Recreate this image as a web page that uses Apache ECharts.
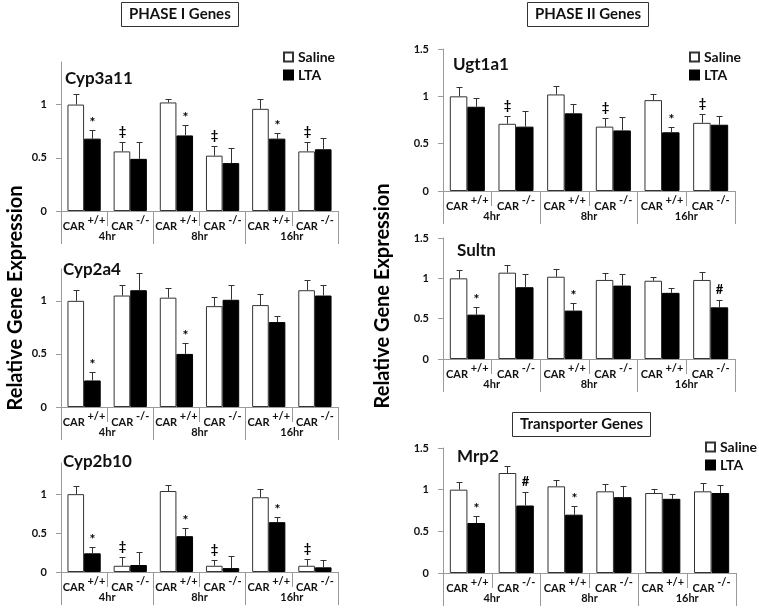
<!DOCTYPE html>
<html><head><meta charset="utf-8">
<script src="https://cdn.jsdelivr.net/npm/echarts@6/dist/echarts.min.js"></script>
<style>html,body{margin:0;padding:0;background:#fff}#c{width:759px;height:611px}</style>
</head><body><div id="c"></div>
<script>
// ---------- data ----------
const genotypes = ['+/+', '-/-', '+/+', '-/-', '+/+', '-/-'];
const timepoints = ['4hr', '8hr', '16hr'];
const categories = ['4hr CAR+/+', '4hr CAR-/-', '8hr CAR+/+', '8hr CAR-/-', '16hr CAR+/+', '16hr CAR-/-'];
const seriesNames = ['Saline', 'LTA'];

const cyp3a11Saline    = [1.00, 0.56, 1.02, 0.52, 0.96, 0.56];
const cyp3a11SalineErr = [0.10, 0.09, 0.03, 0.09, 0.09, 0.09];
const cyp3a11Lta       = [0.68, 0.49, 0.71, 0.45, 0.68, 0.58];
const cyp3a11LtaErr    = [0.08, 0.16, 0.10, 0.14, 0.05, 0.11];
const cyp3a11SalineMarks = ['', '‡', '', '‡', '', '‡'];
const cyp3a11LtaMarks    = ['*', '', '*', '', '*', ''];

const cyp2a4Saline    = [1.00, 1.05, 1.03, 0.95, 0.96, 1.10];
const cyp2a4SalineErr = [0.10, 0.10, 0.09, 0.09, 0.10, 0.10];
const cyp2a4Lta       = [0.25, 1.10, 0.50, 1.01, 0.80, 1.05];
const cyp2a4LtaErr    = [0.08, 0.16, 0.10, 0.14, 0.06, 0.10];
const cyp2a4SalineMarks = ['', '', '', '', '', ''];
const cyp2a4LtaMarks    = ['*', '', '*', '', '', ''];

const cyp2b10Saline    = [1.00, 0.08, 1.04, 0.08, 0.96, 0.08];
const cyp2b10SalineErr = [0.10, 0.11, 0.08, 0.08, 0.10, 0.09];
const cyp2b10Lta       = [0.24, 0.09, 0.46, 0.05, 0.64, 0.06];
const cyp2b10LtaErr    = [0.08, 0.17, 0.10, 0.15, 0.07, 0.10];
const cyp2b10SalineMarks = ['', '‡', '', '‡', '', '‡'];
const cyp2b10LtaMarks    = ['*', '', '*', '', '*', ''];

const ugt1a1Saline    = [1.00, 0.71, 1.02, 0.68, 0.96, 0.72];
const ugt1a1SalineErr = [0.10, 0.08, 0.09, 0.09, 0.06, 0.09];
const ugt1a1Lta       = [0.89, 0.68, 0.82, 0.64, 0.62, 0.70];
const ugt1a1LtaErr    = [0.09, 0.16, 0.10, 0.14, 0.06, 0.09];
const ugt1a1SalineMarks = ['', '‡', '', '‡', '', '‡'];
const ugt1a1LtaMarks    = ['', '', '', '', '*', ''];

const sultnSaline    = [1.00, 1.07, 1.02, 0.98, 0.97, 0.98];
const sultnSalineErr = [0.10, 0.10, 0.09, 0.09, 0.05, 0.10];
const sultnLta       = [0.55, 0.89, 0.60, 0.91, 0.82, 0.64];
const sultnLtaErr    = [0.09, 0.16, 0.10, 0.14, 0.06, 0.09];
const sultnSalineMarks = ['', '', '', '', '', ''];
const sultnLtaMarks    = ['*', '', '*', '', '', '#'];

const mrp2Saline    = [1.00, 1.20, 1.04, 0.98, 0.96, 0.98];
const mrp2SalineErr = [0.09, 0.09, 0.08, 0.09, 0.05, 0.10];
const mrp2Lta       = [0.60, 0.81, 0.70, 0.91, 0.89, 0.96];
const mrp2LtaErr    = [0.09, 0.16, 0.10, 0.14, 0.06, 0.10];
const mrp2SalineMarks = ['', '', '', '', '', ''];
const mrp2LtaMarks    = ['*', '#', '*', '', '', ''];

const leftTicks  = [0, 0.5, 1];
const rightTicks = [0, 0.5, 1, 1.5];

// ---------- layout ----------
const FONT = 'Lato';
const BAR_CAT_GAP = 0.28;
const panels = [
  { name: 'Cyp3a11', s: cyp3a11Saline, se: cyp3a11SalineErr, l: cyp3a11Lta, le: cyp3a11LtaErr, sm: cyp3a11SalineMarks, lm: cyp3a11LtaMarks, max: 1.4, ticks: leftTicks,
    grid: { left: 61, top: 62, width: 277, height: 149 }, t: { left: 65, top: 70 } },
  { name: 'Cyp2a4', s: cyp2a4Saline, se: cyp2a4SalineErr, l: cyp2a4Lta, le: cyp2a4LtaErr, sm: cyp2a4SalineMarks, lm: cyp2a4LtaMarks, max: 1.3, ticks: leftTicks,
    grid: { left: 61, top: 269, width: 277, height: 138 }, t: { left: 63, top: 261 } },
  { name: 'Cyp2b10', s: cyp2b10Saline, se: cyp2b10SalineErr, l: cyp2b10Lta, le: cyp2b10LtaErr, sm: cyp2b10SalineMarks, lm: cyp2b10LtaMarks, max: 1.4, ticks: leftTicks,
    grid: { left: 61, top: 463, width: 277, height: 109 }, t: { left: 63, top: 453 } },
  { name: 'Ugt1a1', s: ugt1a1Saline, se: ugt1a1SalineErr, l: ugt1a1Lta, le: ugt1a1LtaErr, sm: ugt1a1SalineMarks, lm: ugt1a1LtaMarks, max: 1.5, ticks: rightTicks,
    grid: { left: 443, top: 49, width: 292, height: 142 }, t: { left: 453, top: 56 } },
  { name: 'Sultn', s: sultnSaline, se: sultnSalineErr, l: sultnLta, le: sultnLtaErr, sm: sultnSalineMarks, lm: sultnLtaMarks, max: 1.5, ticks: rightTicks,
    grid: { left: 443, top: 238, width: 292, height: 121 }, t: { left: 457, top: 242 } },
  { name: 'Mrp2', s: mrp2Saline, se: mrp2SalineErr, l: mrp2Lta, le: mrp2LtaErr, sm: mrp2SalineMarks, lm: mrp2LtaMarks, max: 1.5, ticks: rightTicks,
    grid: { left: 443, top: 448, width: 293, height: 125 }, t: { left: 457, top: 448 } }
];

const AXIS_COLOR = '#9a9a9a';
const TEXT_COLOR = '#111';

function errSeries(g, side, vals, errs, marks) {
  return {
    type: 'custom', name: side + 'Err' + g, xAxisIndex: 2 * g, yAxisIndex: g, z: 5, silent: true,
    data: vals.map((v, i) => [i, v, errs[i]]),
    encode: { x: 0, y: 1 },
    renderItem: function (params, api) {
      const i = api.value(0), v = api.value(1), e = api.value(2);
      const band = api.size([1, 0])[0];
      const bw = band * (1 - BAR_CAT_GAP) / 2;
      const p0 = api.coord([i, v]);
      const p1 = api.coord([i, v + e]);
      const cx = Math.round(p0[0] + (side === 'S' ? -bw / 2 : bw / 2)) + 0.5;
      const y0 = p0[1], y1 = Math.round(p1[1]) + 0.5;
      const cap = 3;
      const children = [
        { type: 'line', shape: { x1: cx, y1: y0, x2: cx, y2: y1 }, style: { stroke: '#333', lineWidth: 1 } },
        { type: 'line', shape: { x1: cx - cap, y1: y1, x2: cx + cap, y2: y1 }, style: { stroke: '#333', lineWidth: 1 } }
      ];
      const m = marks[params.dataIndex];
      if (m) {
        children.push({ type: 'text', x: cx, y: y1 - (m === '*' ? 1 : 4),
          style: { text: m, align: 'center', verticalAlign: 'bottom', fontSize: m === '*' ? 14 : 13, fontWeight: 'bold', fontFamily: FONT, fill: '#000' } });
      }
      return { type: 'group', children: children };
    }
  };
}

const grids = [], xAxes = [], yAxes = [], series = [];
const titles = [
  { text: 'PHASE I Genes', left: 121, top: 2, padding: [5, 8], borderColor: '#333', borderWidth: 1,
    textStyle: { fontSize: 15, fontWeight: 'bold', fontFamily: FONT, color: TEXT_COLOR } },
  { text: 'PHASE II Genes', left: 527, top: 2, padding: [5, 8], borderColor: '#333', borderWidth: 1,
    textStyle: { fontSize: 15, fontWeight: 'bold', fontFamily: FONT, color: TEXT_COLOR } },
  { text: 'Transporter Genes', left: 512, top: 412, padding: [5, 8], borderColor: '#333', borderWidth: 1,
    textStyle: { fontSize: 15, fontWeight: 'bold', fontFamily: FONT, color: TEXT_COLOR } }
];

panels.forEach((p, g) => {
  grids.push(Object.assign({ containLabel: false }, p.grid));
  titles.push({ text: p.name, left: p.t.left, top: p.t.top, padding: 0,
    textStyle: { fontSize: 17, fontWeight: 'bold', fontFamily: FONT, color: TEXT_COLOR } });
  xAxes.push({
    type: 'category', gridIndex: g, data: categories, position: 'bottom',
    axisLine: { show: true, lineStyle: { color: AXIS_COLOR } },
    axisTick: { show: true, interval: 0, length: 15, lineStyle: { color: AXIS_COLOR } },
    axisLabel: {
      interval: 0, margin: 4,
      formatter: (v, i) => '{c|CAR }{s|' + genotypes[i] + '}',
      rich: {
        c: { fontSize: 11, fontWeight: 'bold', fontFamily: FONT, color: TEXT_COLOR, lineHeight: 22 },
        s: { fontSize: 11, fontWeight: 'bold', fontFamily: FONT, color: TEXT_COLOR, verticalAlign: 'top', lineHeight: 13 }
      }
    }
  });
  xAxes.push({
    type: 'category', gridIndex: g, data: timepoints, position: 'bottom',
    axisLine: { show: false },
    axisTick: { show: true, interval: 0, length: 33, lineStyle: { color: AXIS_COLOR } },
    axisLabel: { interval: 0, margin: 20, fontSize: 11, fontWeight: 'bold', fontFamily: FONT, color: TEXT_COLOR }
  });
  yAxes.push({
    type: 'value', gridIndex: g, min: 0, max: p.max, interval: 0.5,
    splitLine: { show: false },
    axisLine: { show: true, lineStyle: { color: AXIS_COLOR } },
    axisTick: { show: true, length: 5, lineStyle: { color: AXIS_COLOR }, customValues: p.ticks },
    axisLabel: { customValues: p.ticks, margin: 14, fontSize: 11, fontWeight: 'bold', fontFamily: FONT, color: TEXT_COLOR }
  });
  series.push({
    type: 'bar', name: seriesNames[0], xAxisIndex: 2 * g, yAxisIndex: g, data: p.s,
    barGap: '0%', barCategoryGap: (BAR_CAT_GAP * 100) + '%',
    itemStyle: { color: '#ffffff', borderColor: '#333', borderWidth: 1 }, silent: true
  });
  series.push({
    type: 'bar', name: seriesNames[1], xAxisIndex: 2 * g, yAxisIndex: g, data: p.l,
    barGap: '0%', barCategoryGap: (BAR_CAT_GAP * 100) + '%',
    itemStyle: { color: '#000000', borderColor: '#000', borderWidth: 1 }, silent: true
  });
  series.push(errSeries(g, 'S', p.s, p.se, p.sm));
  series.push(errSeries(g, 'L', p.l, p.le, p.lm));
});

function legendAt(left, top) {
  return {
    data: seriesNames, left: left, top: top, orient: 'vertical', padding: 0,
    itemWidth: 9, itemHeight: 9, itemGap: 4, selectedMode: false, icon: 'rect',
    textStyle: { fontSize: 14, fontWeight: 'bold', fontFamily: FONT, color: TEXT_COLOR }
  };
}

const option = {
  animation: false,
  backgroundColor: '#fff',
  title: titles,
  legend: [legendAt(283, 50), legendAt(689, 50), legendAt(705, 440)],
  grid: grids,
  xAxis: xAxes,
  yAxis: yAxes,
  series: series,
  graphic: [
    { type: 'text', x: 16, y: 298, rotation: Math.PI / 2,
      style: { text: 'Relative Gene Expression', align: 'center', verticalAlign: 'middle', fontSize: 20, fontWeight: 'bold', fontFamily: FONT, fill: '#000' } },
    { type: 'text', x: 383, y: 296, rotation: Math.PI / 2,
      style: { text: 'Relative Gene Expression', align: 'center', verticalAlign: 'middle', fontSize: 20, fontWeight: 'bold', fontFamily: FONT, fill: '#000' } }
  ]
};

const chart = echarts.init(document.getElementById('c'), null, { renderer: 'canvas' });
chart.setOption(option);
</script>
</body></html>
